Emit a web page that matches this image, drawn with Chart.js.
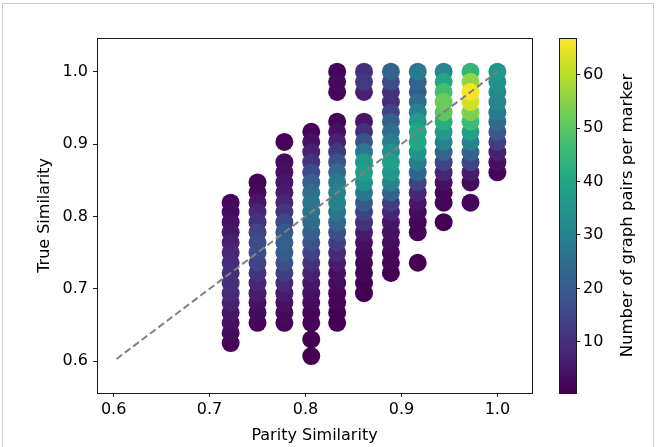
<!DOCTYPE html>
<html>
<head>
<meta charset="utf-8">
<script src="https://cdn.jsdelivr.net/npm/chart.js@4.4.1/dist/chart.umd.min.js"></script>
<style>
  html, body { margin: 0; padding: 0; background: #fff; }
  #wrap { position: relative; width: 658px; height: 447px; overflow: hidden; }
  #main { position: absolute; left: 0; top: 0; }
  #cbar { position: absolute; left: 540px; top: 0; }
  #frame { position: absolute; left: 2px; top: 3px; width: 652px; height: 450px; border: 1px solid #cfcfcf; box-sizing: border-box; }
</style>
</head>
<body>
<div id="wrap">
  <div id="frame"></div>
  <canvas id="main" width="658" height="447"></canvas>
  <canvas id="cbar" width="118" height="447"></canvas>
</div>
<script>
// Parity similarity of each column of markers
const paritySim = [0.722, 0.750, 0.778, 0.806, 0.833, 0.861, 0.889, 0.917, 0.944, 0.972, 1.000];

// True similarity values and graph-pair counts per column (top to bottom)
const trueSim0722 = [0.819, 0.806, 0.792, 0.778, 0.764, 0.750, 0.736, 0.722, 0.708, 0.694, 0.681, 0.667, 0.653, 0.639, 0.625];
const count0722   = [2, 3, 4, 5, 7, 8, 9, 10, 10, 9, 7, 5, 4, 3, 2];

const trueSim0750 = [0.847, 0.833, 0.819, 0.806, 0.792, 0.778, 0.764, 0.750, 0.736, 0.722, 0.708, 0.694, 0.681, 0.667, 0.653];
const count0750   = [2, 3, 5, 8, 11, 14, 16, 16, 14, 11, 8, 6, 4, 3, 2];

const trueSim0778 = [0.903, 0.875, 0.861, 0.847, 0.833, 0.819, 0.806, 0.792, 0.778, 0.764, 0.750, 0.736, 0.722, 0.708, 0.694, 0.681, 0.667, 0.653];
const count0778   = [2, 3, 4, 5, 6, 8, 11, 15, 19, 21, 20, 17, 13, 9, 6, 4, 3, 2];

const trueSim0806 = [0.917, 0.903, 0.889, 0.875, 0.861, 0.847, 0.833, 0.819, 0.806, 0.792, 0.778, 0.764, 0.750, 0.736, 0.722, 0.708, 0.694, 0.681, 0.667, 0.653, 0.630, 0.607];
const count0806   = [2, 4, 7, 11, 16, 21, 25, 27, 26, 24, 21, 18, 14, 10, 7, 5, 4, 3, 2, 2, 1, 1];

const trueSim0833 = [1.000, 0.986, 0.972, 0.931, 0.917, 0.903, 0.889, 0.875, 0.861, 0.847, 0.833, 0.819, 0.806, 0.792, 0.778, 0.764, 0.750, 0.736, 0.722, 0.708, 0.694, 0.681, 0.667, 0.653];
const count0833   = [2, 3, 2, 2, 4, 7, 12, 18, 24, 28, 30, 30, 27, 22, 17, 13, 9, 6, 4, 3, 2, 2, 1, 1];

const trueSim0861 = [1.000, 0.986, 0.972, 0.931, 0.917, 0.903, 0.889, 0.875, 0.861, 0.847, 0.833, 0.819, 0.806, 0.792, 0.778, 0.764, 0.750, 0.736, 0.722, 0.708, 0.694];
const count0861   = [10, 12, 7, 5, 10, 18, 28, 36, 38, 34, 27, 20, 14, 10, 6, 4, 3, 2, 2, 1, 1];

const trueSim0889 = [1.000, 0.986, 0.972, 0.958, 0.944, 0.931, 0.917, 0.903, 0.889, 0.875, 0.861, 0.847, 0.833, 0.819, 0.806, 0.792, 0.778, 0.764, 0.750, 0.736, 0.722];
const count0889   = [22, 16, 10, 9, 14, 21, 25, 29, 34, 38, 36, 30, 22, 13, 8, 5, 4, 3, 2, 2, 1];

const trueSim0917 = [1.000, 0.986, 0.972, 0.958, 0.944, 0.931, 0.917, 0.903, 0.889, 0.875, 0.861, 0.847, 0.833, 0.819, 0.806, 0.792, 0.778, 0.736];
const count0917   = [28, 22, 20, 25, 30, 37, 40, 40, 35, 29, 22, 14, 8, 5, 3, 2, 2, 1];

const trueSim0944 = [1.000, 0.986, 0.972, 0.958, 0.944, 0.931, 0.917, 0.903, 0.889, 0.875, 0.861, 0.847, 0.833, 0.819, 0.792];
const count0944   = [32, 40, 47, 52, 50, 42, 36, 30, 22, 14, 8, 4, 2, 2, 1];

const trueSim0972 = [1.000, 0.986, 0.972, 0.958, 0.944, 0.931, 0.917, 0.903, 0.889, 0.875, 0.861, 0.847, 0.819];
const count0972   = [44, 56, 66, 62, 54, 46, 38, 30, 22, 14, 6, 3, 2];

const trueSim1000 = [1.000, 0.986, 0.972, 0.958, 0.944, 0.931, 0.917, 0.903, 0.889, 0.875, 0.861];
const count1000   = [36, 34, 32, 31, 28, 24, 19, 13, 7, 4, 2];

// Diagonal reference line
const diagX = [0.603, 1.0];
const diagY = [0.603, 1.0];

// Axis ticks and colour range
const xTicks = [0.6, 0.7, 0.8, 0.9, 1.0];
const yTicks = [0.6, 0.7, 0.8, 0.9, 1.0];
const cbTicks = [10, 20, 30, 40, 50, 60];
const cMin = 1;
const cMax = 67;

// viridis colour map
const viridisStops = ['#440154', '#482475', '#414487', '#355f8d', '#2a788e', '#21918c',
                      '#22a884', '#44bf70', '#7ad151', '#bddf26', '#fde725'];
function hexRgb(h) {
  return [parseInt(h.slice(1, 3), 16), parseInt(h.slice(3, 5), 16), parseInt(h.slice(5, 7), 16)];
}
function viridis(t) {
  t = Math.max(0, Math.min(1, t));
  const s = t * (viridisStops.length - 1);
  const i = Math.min(Math.floor(s), viridisStops.length - 2);
  const f = s - i;
  const a = hexRgb(viridisStops[i]), b = hexRgb(viridisStops[i + 1]);
  const c = a.map((v, k) => Math.round(v + (b[k] - v) * f));
  return `rgb(${c[0]}, ${c[1]}, ${c[2]})`;
}
function countColor(n) {
  return viridis((n - cMin) / (cMax - cMin));
}

const columnSims = [trueSim0722, trueSim0750, trueSim0778, trueSim0806, trueSim0833, trueSim0861,
                    trueSim0889, trueSim0917, trueSim0944, trueSim0972, trueSim1000];
const columnCounts = [count0722, count0750, count0778, count0806, count0833, count0861,
                      count0889, count0917, count0944, count0972, count1000];

const points = [];
paritySim.forEach((px, i) => {
  columnSims[i].forEach((ty, j) => {
    points.push({ x: px, y: ty, n: columnCounts[i][j] });
  });
});
// higher counts drawn on top
points.sort((a, b) => a.n - b.n);

const FONT = 'DejaVu Sans';
Chart.defaults.font.family = FONT;
Chart.defaults.font.size = 16;
Chart.defaults.color = '#000';

// black box around the plotting area (axes spines)
function strokeArea(ctx, a) {
  ctx.strokeStyle = '#1a1a1a';
  ctx.lineWidth = 1;
  ctx.strokeRect(Math.round(a.left) + 0.5, Math.round(a.top) + 0.5,
                 Math.round(a.right - a.left), Math.round(a.bottom - a.top));
}
const frameBox = {
  id: 'frameBox',
  afterDraw(chart) {
    chart.ctx.save();
    strokeArea(chart.ctx, chart.chartArea);
    chart.ctx.restore();
  }
};

const tickGrid = { drawOnChartArea: false, drawTicks: true, tickLength: 4, color: '#1a1a1a', lineWidth: 1 };

new Chart(document.getElementById('main'), {
  type: 'scatter',
  data: {
    datasets: [
      {
        type: 'line',
        data: diagX.map((x, i) => ({ x: x, y: diagY[i] })),
        borderColor: '#808080',
        borderWidth: 2,
        borderDash: [7, 3.5],
        pointRadius: 0,
        fill: false,
        order: 0
      },
      {
        data: points,
        pointRadius: 9,
        pointHoverRadius: 9,
        pointBorderWidth: 0,
        borderWidth: 0,
        pointBackgroundColor: ctx => countColor(ctx.raw ? ctx.raw.n : cMin),
        backgroundColor: ctx => countColor(ctx.raw ? ctx.raw.n : cMin),
        order: 1
      }
    ]
  },
  options: {
    responsive: false,
    animation: false,
    events: [],
    layout: { padding: { left: 0, top: 38, right: 126, bottom: 0 } },
    plugins: { legend: { display: false }, tooltip: { enabled: false } },
    scales: {
      x: {
        type: 'linear',
        min: 0.5827,
        max: 1.0361,
        afterBuildTicks: s => { s.ticks = xTicks.map(v => ({ value: v })); },
        afterFit: s => { s.height = 54; },
        ticks: { callback: v => v.toFixed(1), padding: 3, maxRotation: 0 },
        grid: tickGrid,
        border: { display: false },
        title: { display: true, text: 'Parity Similarity', padding: { top: 0, bottom: 2 } }
      },
      y: {
        type: 'linear',
        min: 0.556,
        max: 1.0466,
        afterBuildTicks: s => { s.ticks = yTicks.map(v => ({ value: v })); },
        afterFit: s => { s.width = 97; },
        ticks: { callback: v => v.toFixed(1), padding: 5 },
        grid: tickGrid,
        border: { display: false },
        title: { display: true, text: 'True Similarity', padding: { top: 35, bottom: 0 } }
      }
    }
  },
  plugins: [frameBox]
});

// colour bar: gradient filling the colour scale's area, plus its label
const colorBar = {
  id: 'colorBar',
  beforeDatasetsDraw(chart) {
    const { ctx, chartArea: a } = chart;
    const ys = chart.scales.y;
    const yTop = ys.getPixelForValue(cMax);
    const yBot = ys.getPixelForValue(cMin);
    const g = ctx.createLinearGradient(0, yBot, 0, yTop);
    viridisStops.forEach((c, i) => g.addColorStop(i / (viridisStops.length - 1), c));
    ctx.save();
    ctx.fillStyle = g;
    ctx.fillRect(a.left, a.top, a.right - a.left, a.bottom - a.top);
    ctx.restore();
  },
  afterDraw(chart) {
    const { ctx, chartArea: a } = chart;
    ctx.save();
    strokeArea(ctx, a);
    ctx.translate(88, (a.top + a.bottom) / 2);
    ctx.rotate(-Math.PI / 2);
    ctx.fillStyle = '#000';
    ctx.font = `16.5px "${FONT}"`;
    ctx.textAlign = 'center';
    ctx.textBaseline = 'middle';
    ctx.fillText('Number of graph pairs per marker', 0, 0);
    ctx.restore();
  }
};

new Chart(document.getElementById('cbar'), {
  type: 'scatter',
  data: { datasets: [{ data: [] }] },
  options: {
    responsive: false,
    animation: false,
    events: [],
    layout: { padding: { left: 19, top: 38, right: 0, bottom: 54 } },
    plugins: { legend: { display: false }, tooltip: { enabled: false } },
    scales: {
      x: { display: false, min: 0, max: 1 },
      y: {
        type: 'linear',
        position: 'right',
        min: 0.4,
        max: 66.9,
        afterBuildTicks: s => { s.ticks = cbTicks.map(v => ({ value: v })); },
        afterFit: s => { s.width = 82; },
        ticks: { padding: 3 },
        grid: tickGrid,
        border: { display: false }
      }
    }
  },
  plugins: [colorBar]
});
</script>
</body>
</html>
